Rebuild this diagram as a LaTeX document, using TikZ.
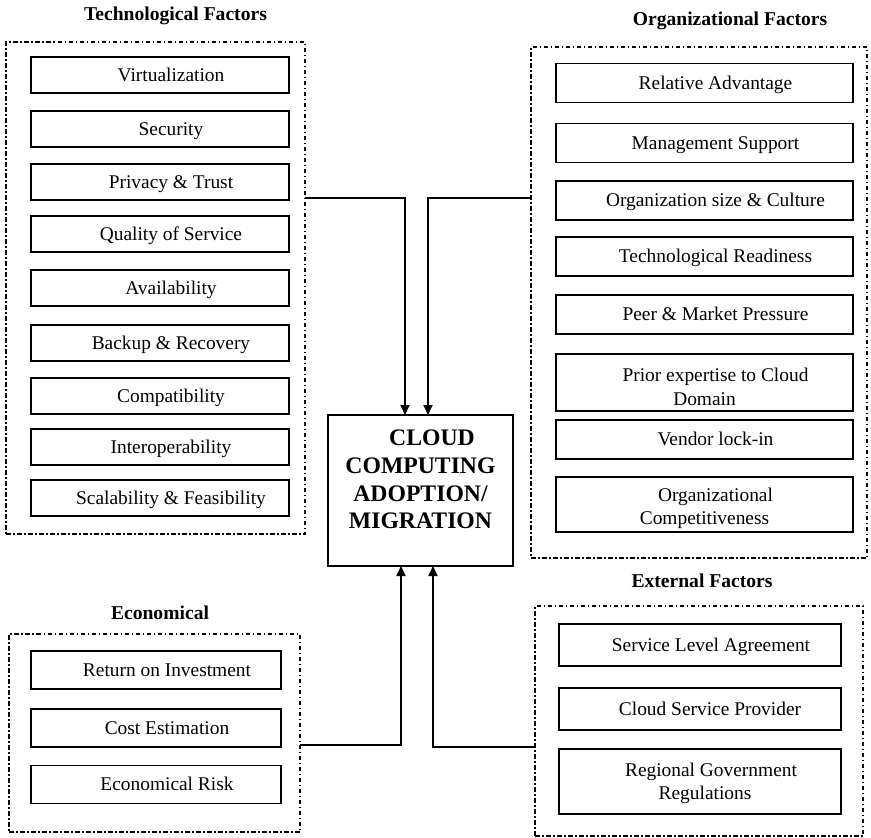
\documentclass[tikz,border=0pt]{standalone}
\usepackage{fontspec}
\setmainfont{Liberation Serif}
\usetikzlibrary{arrows.meta}
\newcommand\itemsize{\fontsize{19.4pt}{23pt}\selectfont}
\begin{document}
\begin{tikzpicture}[x=1pt,y=-1pt,
  grp/.style={draw, line width=1.1pt, dash pattern=on 4.5pt off 2.5pt on 1.5pt off 2.5pt,
    inner sep=0pt, outer sep=0pt},
  itembox/.style={draw, line width=1.3pt, inner sep=0pt, outer sep=0pt,
    font=\itemsize, text height=12.8pt, text depth=0pt},
  itemtext/.style={inner sep=0pt, font=\itemsize, text height=12.8pt, text depth=0pt},
  techitem/.style={itembox, minimum width=258pt, minimum height=36pt},
  orgitem/.style={itembox, minimum width=297pt, minimum height=39pt},
  extitem/.style={itembox, minimum width=282pt, minimum height=42pt},
  ecoitem/.style={itembox, minimum width=250pt, minimum height=38pt},
  grouptitle/.style={inner sep=0pt, font=\fontsize{19.6pt}{23pt}\selectfont\bfseries,
    text height=12.9pt, text depth=0pt},
  coretext/.style={inner sep=0pt, font=\fontsize{23.7pt}{28pt}\selectfont\bfseries,
    text height=15.7pt, text depth=0pt},
  conn/.style={line width=2pt, -{Triangle[length=10pt,width=9pt]}},
]
\useasboundingbox (0,0) rectangle (871,838);

% ---- group frames ----
\node[grp, minimum width=299pt, minimum height=492pt] (tech) at (155.5,288) {};
\node[grp, minimum width=336pt, minimum height=511pt] (org)  at (699,302.5) {};
\node[grp, minimum width=291pt, minimum height=198pt] (eco)  at (154.5,733) {};
\node[grp, minimum width=328pt, minimum height=230pt] (ext)  at (699,721) {};

% ---- group titles ----
\node[grouptitle] (techT) at (175.5,14) {Technological Factors};
\node[grouptitle] (orgT)  at (730,19)   {Organizational Factors};
\node[grouptitle] (ecoT)  at (160,613.5) {Economical};
\node[grouptitle] (extT)  at (702,581.5) {External Factors};

% ---- technological factors ----
\node[techitem] (t1) at (160,75)  {\hspace*{22pt}Virtualization};
\node[techitem] (t2) at (160,129) {\hspace*{22pt}Security};
\node[techitem] (t3) at (160,182) {\hspace*{22pt}Privacy \& Trust};
\node[techitem] (t4) at (160,234) {\hspace*{22pt}Quality of Service};
\node[techitem] (t5) at (160,288) {\hspace*{22pt}Availability};
\node[techitem] (t6) at (160,343) {\hspace*{22pt}Backup \& Recovery};
\node[techitem] (t7) at (160,396) {\hspace*{22pt}Compatibility};
\node[techitem] (t8) at (160,447) {\hspace*{22pt}Interoperability};
\node[techitem] (t9) at (160,498) {\hspace*{22pt}Scalability \& Feasibility};

% ---- organizational factors ----
\node[orgitem] (o1) at (704.5,83)    {\hspace*{22pt}Relative Advantage};
\node[orgitem] (o2) at (704.5,143)   {\hspace*{22pt}Management Support};
\node[orgitem] (o3) at (704.5,200.5) {\hspace*{22pt}Organization size \& Culture};
\node[orgitem] (o4) at (704.5,256.5) {\hspace*{22pt}Technological Readiness};
\node[orgitem] (o5) at (704.5,314.5) {\hspace*{22pt}Peer \& Market Pressure};
\node[orgitem, minimum height=57pt] (o6) at (704.5,382.5) {};
\node[itemtext, xshift=11pt, yshift=7.5pt] (o6a) at (o6.center) {Prior expertise to Cloud};
\node[itemtext, yshift=-16.5pt] (o6b) at (o6.center) {Domain};
\node[orgitem] (o7) at (704.5,439.5) {\hspace*{22pt}Vendor lock-in};
\node[orgitem, minimum height=55pt] (o8) at (704.5,504.5) {};
\node[itemtext, xshift=11pt, yshift=9.5pt] (o8a) at (o8.center) {Organizational};
\node[itemtext, yshift=-14pt] (o8b) at (o8.center) {Competitiveness};

% ---- economical factors ----
\node[ecoitem] (e1) at (156,670)   {\hspace*{22pt}Return on Investment};
\node[ecoitem] (e2) at (156,728)   {\hspace*{22pt}Cost Estimation};
\node[ecoitem] (e3) at (156,784.5) {\hspace*{22pt}Economical Risk};

% ---- external factors ----
\node[extitem] (x1) at (700,645) {\hspace*{22pt}Service Level Agreement};
\node[extitem] (x2) at (700,709) {\hspace*{20pt}Cloud Service Provider};
\node[extitem, minimum height=65pt] (x3) at (700,781.5) {};
\node[itemtext, xshift=11pt, yshift=11.5pt] (x3a) at (x3.center) {Regional Government};
\node[itemtext, xshift=5pt, yshift=-11.5pt] (x3b) at (x3.center) {Regulations};

% ---- central box ----
\node[draw, line width=1.5pt, minimum width=185pt, minimum height=151pt,
      inner sep=0pt, outer sep=0pt] (cc) at (420.5,490.5) {};
\node[coretext, xshift=11.5pt, yshift=52.5pt] (c1) at (cc.center) {CLOUD};
\node[coretext, yshift=24.5pt]  (c2) at (cc.center) {COMPUTING};
\node[coretext, yshift=-3.5pt]  (c3) at (cc.center) {ADOPTION/};
\node[coretext, yshift=-30.5pt] (c4) at (cc.center) {MIGRATION};

% ---- connectors ----
\coordinate (k1) at (405,198);
\coordinate (k2) at (428,198);
\coordinate (k3) at (401,745);
\coordinate (k4) at (433,747);
\draw[conn] (tech.east |- k1) -| (cc.north -| k1);
\draw[conn] (org.west |- k2)  -| (cc.north -| k2);
\draw[conn] (eco.east |- k3)  -| (cc.south -| k3);
\draw[conn] (ext.west |- k4)  -| (cc.south -| k4);
\end{tikzpicture}
\end{document}
